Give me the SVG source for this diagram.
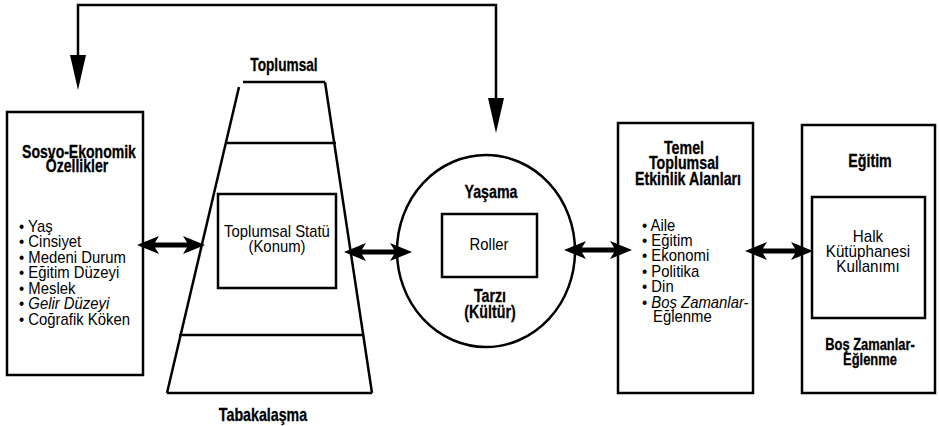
<svg xmlns="http://www.w3.org/2000/svg" width="939" height="426" viewBox="0 0 939 426">
<style>
.ln{fill:none;stroke:#000;stroke-width:2.5}
.b{font-family:"Liberation Sans",Arial,sans-serif;font-weight:bold;font-size:18px;fill:#000;stroke:#000;stroke-width:.3}
.bs{font-size:17px}
.r{font-family:"Liberation Sans",Arial,sans-serif;font-size:16px;fill:#000}
.c{text-anchor:middle}
.i{font-style:italic}
.ah{fill:#000}
</style>
<defs>
<path id="dbl" d="M0,0 L22,-9 L18,-2.5 L50,-2.5 L46,-9 L68,0 L46,9 L50,2.5 L18,2.5 L22,9 Z"/>
</defs>
<rect width="939" height="426" fill="#fff"/>
<g id="connectors">
<path class="ln" d="M78,60 V5 H496 V100"/>
<polygon class="ah" points="70,55 86,55 78,90"/>
<polygon class="ah" points="488,98 504,98 496,133"/>
<use href="#dbl" x="137" y="245"/>
<use href="#dbl" x="344" y="252"/>
<use href="#dbl" x="564" y="250"/>
<use href="#dbl" x="745" y="251"/>
</g>
<g id="socio">
<rect class="ln" x="7" y="112" width="136" height="263"/>
<text class="b c" transform="translate(79,158) scale(.78,1)">Sosyo-Ekonomik</text>
<text class="b c" transform="translate(77,172) scale(.78,1)">Özellikler</text>
<text class="r" transform="translate(19,232) scale(.93,1)">• Yaş</text>
<text class="r" transform="translate(19,247) scale(.93,1)">• Cinsiyet</text>
<text class="r" transform="translate(19,263) scale(.93,1)">• Medeni Durum</text>
<text class="r" transform="translate(19,278) scale(.93,1)">• Eğitim Düzeyi</text>
<text class="r" transform="translate(19,294) scale(.93,1)">• Meslek</text>
<text class="r" transform="translate(19,309) scale(.93,1)">• <tspan class="i">Gelir Düzeyi</tspan></text>
<text class="r" transform="translate(19,325) scale(.93,1)">• Coğrafik Köken</text>
</g>
<g id="stratification">
<line class="ln" x1="243" y1="82" x2="325" y2="82"/>
<line class="ln" x1="239" y1="87" x2="167" y2="393"/>
<line class="ln" x1="325" y1="82" x2="372" y2="393"/>
<line class="ln" x1="167" y1="393" x2="372" y2="393"/>
<line class="ln" x1="227" y1="143" x2="336" y2="143"/>
<line class="ln" x1="179" y1="335" x2="363" y2="335"/>
<text class="b c" transform="translate(284,71) scale(.76,1)">Toplumsal</text>
<text class="b c" transform="translate(263,421) scale(.79,1)">Tabakalaşma</text>
</g>
<g id="status">
<rect class="ln" x="218" y="194" width="118" height="94"/>
<text class="r c" transform="translate(277,237) scale(.93,1)">Toplumsal Statü</text>
<text class="r c" transform="translate(277,252) scale(.93,1)">(Konum)</text>
</g>
<g id="lifestyle">
<ellipse class="ln" cx="486" cy="251" rx="89" ry="96"/>
<text class="b c" transform="translate(491,198) scale(.79,1)">Yaşama</text>
<text class="b c" transform="translate(490,302) scale(.79,1)">Tarzı</text>
<text class="b c" transform="translate(490,318) scale(.79,1)">(Kültür)</text>
</g>
<g id="roles">
<rect class="ln" x="442" y="214" width="95" height="63"/>
<text class="r c" transform="translate(489,250) scale(.93,1)">Roller</text>
</g>
<g id="activities">
<rect class="ln" x="618" y="123" width="135" height="270"/>
<text class="b c" transform="translate(684,154) scale(.79,1)">Temel</text>
<text class="b c" transform="translate(684,169) scale(.79,1)">Toplumsal</text>
<text class="b c" transform="translate(688,185) scale(.79,1)">Etkinlik Alanları</text>
<text class="r" transform="translate(642,231) scale(.93,1)">• Aile</text>
<text class="r" transform="translate(642,246) scale(.93,1)">• Eğitim</text>
<text class="r" transform="translate(642,261) scale(.93,1)">• Ekonomi</text>
<text class="r" transform="translate(642,277) scale(.93,1)">• Politika</text>
<text class="r" transform="translate(642,292) scale(.93,1)">• Din</text>
<text class="r" transform="translate(642,308) scale(.93,1)">• <tspan class="i">Boş Zamanlar-</tspan></text>
<text class="r" transform="translate(653,322) scale(.93,1)">Eğlenme</text>
</g>
<g id="library">
<rect class="ln" x="802" y="125" width="133" height="268"/>
<text class="b c" transform="translate(870,167) scale(.79,1)">Eğitim</text>
<text class="b bs c" transform="translate(870,350) scale(.76,1)">Boş Zamanlar-</text>
<text class="b bs c" transform="translate(870,365) scale(.76,1)">Eğlenme</text>
</g>
<g id="library-use">
<rect class="ln" x="812" y="197" width="113" height="121"/>
<text class="r c" transform="translate(868,242) scale(.95,1)">Halk</text>
<text class="r c" transform="translate(868,257) scale(.95,1)">Kütüphanesi</text>
<text class="r c" transform="translate(868,272) scale(.95,1)">Kullanımı</text>
</g>
</svg>
